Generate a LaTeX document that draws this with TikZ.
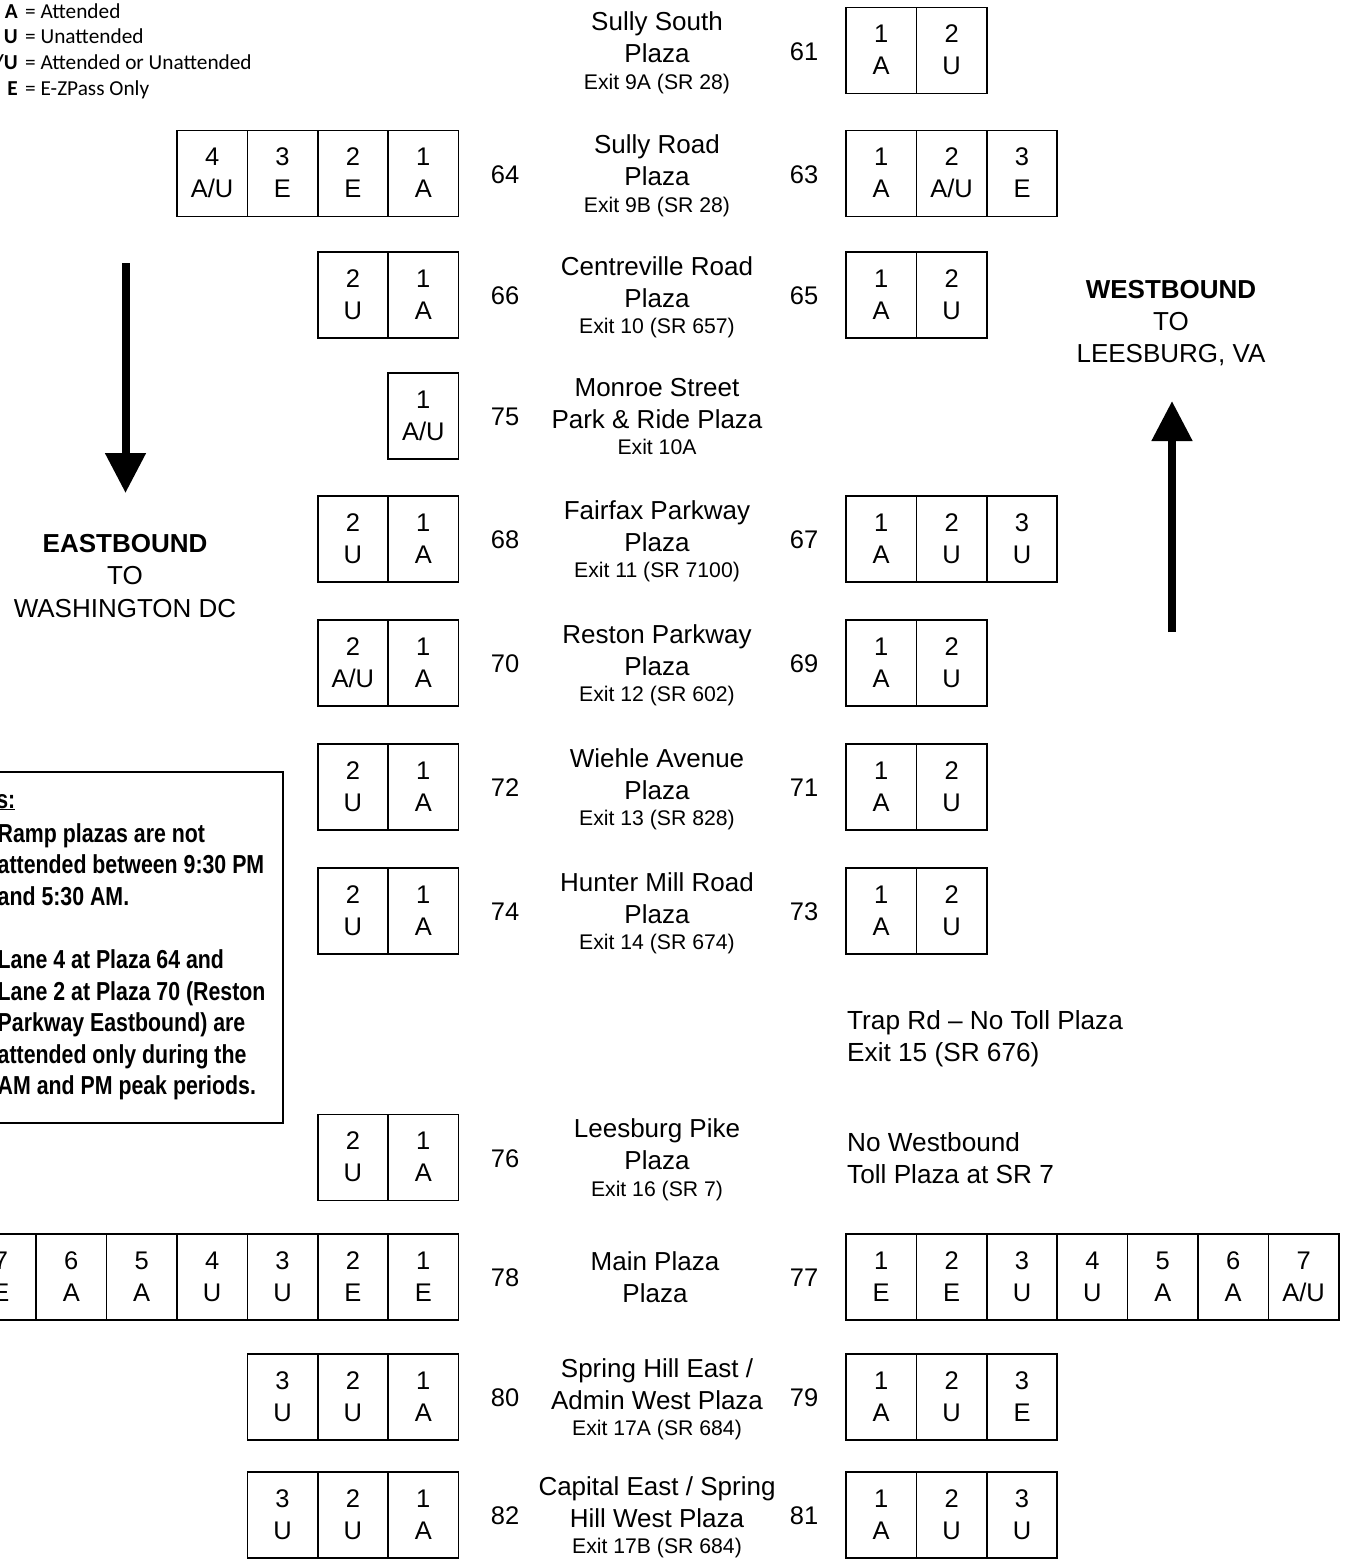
\documentclass[tikz,border=0pt]{standalone}
\usepackage{fontspec}
\setmainfont{Liberation Sans}
\newfontfamily\legfont{Carlito}
\newfontfamily\notefont[FakeStretch=0.82]{Liberation Sans}
\usetikzlibrary{arrows.meta,calc}
\tikzset{
  cell/.style={draw, line width=1.6pt, minimum width=70.4pt, minimum height=86pt, inner sep=0pt},
  celltxt/.style={anchor=base, inner sep=0pt, font=\fontsize{25.5}{30}\selectfont},
  ptxt/.style={anchor=base, inner sep=0pt, font=\fontsize{26}{30}\selectfont},
  etxt/.style={anchor=base, inner sep=0pt, font=\fontsize{21.2}{24}\selectfont},
  ntxt/.style={anchor=base, inner sep=0pt, font=\fontsize{25.5}{30}\selectfont},
  ltxt/.style={anchor=base west, inner sep=0pt, font=\fontsize{26.2}{30}\selectfont},
  legkey/.style={anchor=base east, inner sep=0pt, font=\legfont\bfseries\fontsize{21.3}{24}\selectfont},
  legval/.style={anchor=base west, inner sep=0pt, font=\legfont\fontsize{21.3}{24}\selectfont},
  notetxt/.style={anchor=base west, inner sep=0pt, font=\notefont\bfseries\fontsize{26}{30}\selectfont},
  dirarrow/.style={line width=8pt, -{Triangle[width=39pt,length=40pt]}},
}
\newcommand\lrow[3]{\foreach \n/\t in {#3}{%
  \node[cell] (c#1-\n) at ({458.5-70.4*(\n-0.5)},#2) {};
  \node[celltxt] (n#1-\n) at ($(c#1-\n.center)+(0,-8)$) {\n};
  \node[celltxt] (t#1-\n) at ($(c#1-\n.center)+(0,24)$) {\t};}}
\newcommand\rrow[3]{\foreach \n/\t in {#3}{%
  \node[cell] (c#1-\n) at ({846+70.4*(\n-0.5)},#2) {};
  \node[celltxt] (n#1-\n) at ($(c#1-\n.center)+(0,-8)$) {\n};
  \node[celltxt] (t#1-\n) at ($(c#1-\n.center)+(0,24)$) {\t};}}
\newcommand\plaza[5]{%
  \node[ptxt] (p#1a) at (657,#2-20) {#3};
  \node[ptxt] (p#1b) at (657,#2+12) {#4};
  \node[etxt] (p#1c) at (657,#2+38.5) {#5};}
\newcommand\lnum[2]{\node[ntxt] (nl#1) at (505,#2+9.5) {#1};}
\newcommand\rnum[2]{\node[ntxt] (nr#1) at (804,#2+9.5) {#1};}
\begin{document}
\begin{tikzpicture}[x=1pt,y=-1pt]
\path[use as bounding box] (0,0) rectangle (1346,1559);
\clip (0,0) rectangle (1346,1559);
% legend
\node[legkey] (k1) at (18,18) {A};
\node[legval] (v1) at (25,18) {= Attended};
\node[legkey] (k2) at (18,43.5) {U};
\node[legval] (v2) at (25,43.5) {= Unattended};
\node[legkey] (k3) at (18,69) {A/U};
\node[legval] (v3) at (25,69) {= Attended or Unattended};
\node[legkey] (k4) at (18,95) {E};
\node[legval] (v4) at (25,95) {= E-ZPass Only};
% rows
\rnum{61}{50.5}\rrow{61}{50.5}{1/A,2/U}
\plaza{61}{50.5}{Sully South}{Plaza}{Exit 9A (SR 28)}
\lnum{64}{173.5}\lrow{64}{173.5}{1/A,2/E,3/E,4/{A/U}}
\rnum{63}{173.5}\rrow{63}{173.5}{1/A,2/{A/U},3/E}
\plaza{64}{173.5}{Sully Road}{Plaza}{Exit 9B (SR 28)}
\lnum{66}{295}\lrow{66}{295}{1/A,2/U}
\rnum{65}{295}\rrow{65}{295}{1/A,2/U}
\plaza{66}{295}{Centreville Road}{Plaza}{Exit 10 (SR 657)}
\lnum{75}{416}\lrow{75}{416}{1/{A/U}}
\plaza{75}{416}{Monroe Street}{Park \& Ride Plaza}{Exit 10A}
\lnum{68}{539}\lrow{68}{539}{1/A,2/U}
\rnum{67}{539}\rrow{67}{539}{1/A,2/U,3/U}
\plaza{68}{539}{Fairfax Parkway}{Plaza}{Exit 11 (SR 7100)}
\lnum{70}{663}\lrow{70}{663}{1/A,2/{A/U}}
\rnum{69}{663}\rrow{69}{663}{1/A,2/U}
\plaza{70}{663}{Reston Parkway}{Plaza}{Exit 12 (SR 602)}
\lnum{72}{787}\lrow{72}{787}{1/A,2/U}
\rnum{71}{787}\rrow{71}{787}{1/A,2/U}
\plaza{72}{787}{Wiehle Avenue}{Plaza}{Exit 13 (SR 828)}
\lnum{74}{911}\lrow{74}{911}{1/A,2/U}
\rnum{73}{911}\rrow{73}{911}{1/A,2/U}
\plaza{74}{911}{Hunter Mill Road}{Plaza}{Exit 14 (SR 674)}
\lnum{76}{1157.5}\lrow{76}{1157.5}{1/A,2/U}
\plaza{76}{1157.5}{Leesburg Pike}{Plaza}{Exit 16 (SR 7)}
\lnum{78}{1277}\lrow{78}{1277}{1/E,2/E,3/U,4/U,5/A,6/A,7/E}
\rnum{77}{1277}\rrow{77}{1277}{1/E,2/E,3/U,4/U,5/A,6/A,7/{A/U}}
\node[ptxt] (p78a) at (655,1270) {Main Plaza};
\node[ptxt] (p78b) at (655,1302) {Plaza};
\lnum{80}{1397}\lrow{80}{1397}{1/A,2/U,3/U}
\rnum{79}{1397}\rrow{79}{1397}{1/A,2/U,3/E}
\plaza{80}{1397}{Spring Hill East /}{Admin West Plaza}{Exit 17A (SR 684)}
\lnum{82}{1515}\lrow{82}{1515}{1/A,2/U,3/U}
\rnum{81}{1515}\rrow{81}{1515}{1/A,2/U,3/U}
\plaza{82}{1515}{Capital East / Spring}{Hill West Plaza}{Exit 17B (SR 684)}
% no-plaza notes
\node[ltxt] (trap1) at (847,1029) {Trap Rd -- No Toll Plaza};
\node[ltxt] (trap2) at (847,1061) {Exit 15 (SR 676)};
\node[ltxt] (nw1) at (847,1151) {No Westbound};
\node[ltxt] (nw2) at (847,1183) {Toll Plaza at SR 7};
% direction arrows
\coordinate (ebs) at (125.5,263);
\coordinate (ebe) at (125.5,493);
\draw[dirarrow] (ebs) -- (ebe);
\node[ptxt] (eb1) at (125,552) {\bfseries EASTBOUND};
\node[ptxt] (eb2) at (125,584) {TO};
\node[ptxt] (eb3) at (125,617) {WASHINGTON DC};
\coordinate (wbs) at (1172,632);
\coordinate (wbe) at (1172,401);
\draw[dirarrow] (wbs) -- (wbe);
\node[ptxt] (wb1) at (1171,298) {\bfseries WESTBOUND};
\node[ptxt] (wb2) at (1171,330) {TO};
\node[ptxt] (wb3) at (1171,362) {LEESBURG, VA};
% notes box
\draw[line width=1.6pt] (-10,772) rectangle (283,1123);
\node[notetxt, anchor=base east] (nt0) at (15.5,808) {\underline{Notes:}};
\node[notetxt] (nt1) at (-2.5,842) {Ramp plazas are not};
\node[notetxt] (nt2) at (-2.5,873.5) {attended between 9:30 PM};
\node[notetxt] (nt3) at (-2.5,905) {and 5:30 AM.};
\node[notetxt] (nt4) at (-2.5,968) {Lane 4 at Plaza 64 and};
\node[notetxt] (nt5) at (-2.5,1000) {Lane 2 at Plaza 70 (Reston};
\node[notetxt] (nt6) at (-2.5,1031.5) {Parkway Eastbound) are};
\node[notetxt] (nt7) at (-2.5,1063) {attended only during the};
\node[notetxt] (nt8) at (-2.5,1094.5) {AM and PM peak periods.};
\end{tikzpicture}
\end{document}
